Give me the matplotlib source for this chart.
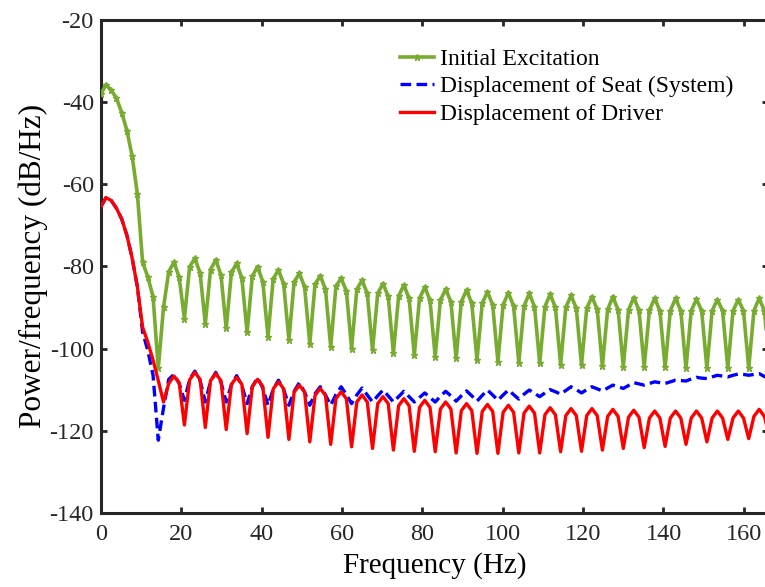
import numpy as np
import matplotlib
matplotlib.use('Agg')
import matplotlib.pyplot as plt

plt.rcParams['font.family'] = ['Liberation Serif', 'DejaVu Serif']
plt.rcParams['axes.unicode_minus'] = False

# PSD values, one value per frequency bin
df = 1.3  # Hz per bin

initial = [
    -38.2, -35.8, -37.2, -39.1, -42.6, -47.0, -53.2, -62.4, -79.0, -82.6,
    -87.4, -104.8, -90.0, -81.3, -79.0, -82.7, -92.7, -80.1, -78.1, -81.6,
    -94.0, -80.8, -78.4, -82.1, -95.1, -81.5, -79.3, -82.9, -96.1, -82.4,
    -80.1, -83.7, -97.1, -83.0, -80.9, -84.3, -97.9, -83.8, -81.7, -85.0,
    -98.8, -84.4, -82.3, -85.6, -99.6, -84.9, -82.9, -86.0, -100.0, -85.6,
    -83.4, -86.6, -100.4, -86.6, -84.2, -87.3, -101.1, -87.2, -84.6, -87.8,
    -101.6, -87.8, -85.1, -88.2, -102.0, -88.2, -85.6, -88.6, -102.4, -88.6,
    -85.8, -89.0, -102.8, -89.0, -86.2, -89.4, -103.2, -89.4, -86.4, -89.7,
    -103.4, -89.7, -86.6, -89.8, -103.6, -89.8, -86.8, -90.0, -103.9, -90.0,
    -87.1, -90.2, -104.0, -90.2, -87.4, -90.5, -104.3, -90.5, -87.4, -90.6,
    -104.4, -90.6, -87.6, -90.7, -104.5, -90.7, -87.8, -90.8, -104.6, -90.8,
    -87.8, -90.8, -104.8, -90.8, -88.0, -90.8, -104.8, -90.8, -88.1, -90.8,
    -104.8, -90.8, -88.1, -90.8, -104.8, -90.8, -87.8, -90.8, -104.8,
]

seat = [
    -65.5, -63.3, -64.0, -65.9, -68.5, -72.5, -78.0, -85.0, -96.0, -100.5,
    -106.5, -122.3, -114.5, -107.5, -106.3, -108.5, -112.6, -107.5, -105.5, -107.8,
    -113.0, -108.0, -105.8, -108.2, -113.0, -108.8, -106.6, -109.0, -113.4, -109.3,
    -107.1, -109.6, -113.8, -109.9, -107.7, -110.0, -113.8, -110.4, -108.3, -110.6,
    -113.8, -111.0, -109.3, -111.3, -113.8, -111.2, -109.3, -111.2, -113.4, -111.3,
    -109.6, -111.3, -113.0, -111.5, -110.1, -111.5, -113.0, -111.7, -110.4, -111.7,
    -113.0, -111.9, -110.8, -111.9, -113.0, -111.6, -110.4, -111.5, -112.8, -111.5,
    -110.3, -111.5, -112.8, -111.4, -110.1, -111.3, -112.6, -111.3, -110.1, -111.2,
    -112.3, -111.1, -110.1, -110.9, -111.7, -110.8, -110.0, -110.5, -111.1, -110.2,
    -109.3, -110.0, -110.8, -110.0, -109.3, -109.8, -110.3, -109.6, -108.9, -109.3,
    -109.7, -109.0, -108.3, -108.6, -108.9, -108.5, -108.1, -108.3, -108.5, -108.1,
    -107.7, -107.8, -107.9, -107.4, -107.0, -107.2, -107.3, -106.9, -106.5, -106.7,
    -106.9, -106.5, -106.2, -106.3, -106.5, -106.3, -106.1, -106.8, -107.3,
]

driver = [
    -65.5, -63.3, -64.0, -65.9, -68.5, -72.5, -78.0, -85.0, -94.8, -98.5,
    -102.8, -107.8, -113.0, -108.5, -106.7, -108.3, -118.6, -107.6, -105.8, -107.5,
    -119.2, -107.8, -106.1, -107.8, -119.7, -108.7, -107.0, -108.7, -120.7, -109.2,
    -107.5, -109.2, -121.6, -109.8, -108.1, -109.8, -122.1, -110.6, -108.9, -110.6,
    -122.7, -111.4, -109.7, -111.4, -123.3, -112.2, -110.5, -112.2, -123.9, -113.0,
    -111.3, -113.0, -124.3, -113.4, -111.7, -113.4, -124.7, -113.9, -112.2, -113.9,
    -125.0, -114.3, -112.6, -114.3, -125.1, -114.7, -113.0, -114.7, -125.4, -115.1,
    -113.4, -115.1, -125.5, -115.3, -113.6, -115.3, -125.5, -115.5, -113.8, -115.5,
    -125.4, -115.7, -114.0, -115.7, -125.4, -116.1, -114.4, -116.1, -125.1, -116.3,
    -114.6, -116.3, -125.0, -116.3, -114.6, -116.3, -124.7, -116.5, -114.8, -116.5,
    -124.3, -116.7, -115.0, -116.7, -124.1, -116.9, -115.2, -116.9, -123.8, -116.9,
    -115.2, -116.9, -123.3, -116.9, -115.2, -116.9, -122.7, -116.9, -115.2, -116.9,
    -122.1, -116.9, -115.2, -116.9, -121.9, -116.5, -114.8, -116.5, -121.5,
]

labels = ['Initial Excitation', 'Displacement of Seat (System)', 'Displacement of Driver']

freq = df * np.arange(len(initial))

fig = plt.figure(figsize=(7.65, 5.87), dpi=100)
ax = fig.add_axes([100.8 / 765, 74 / 587, 667.2 / 765, 493.4 / 587])

ax.plot(freq, initial, '-', color='#77AC30', lw=2.6, marker='*', ms=5,
        label=labels[0], zorder=3)
ax.plot(freq, seat, '--', color='#0000FF', lw=2.4, dashes=(3.2, 1.6),
        label=labels[1], zorder=4)
ax.plot(freq, driver, '-', color='#FF0000', lw=2.4, label=labels[2], zorder=5)

ax.set_xlim(0, 166)
ax.set_ylim(-140, -20)
ax.set_xticks(np.arange(0, 161, 20))
ax.set_yticks(np.arange(-140, -19, 20))

for s in ax.spines.values():
    s.set_linewidth(2.2)
    s.set_color('#262626')
ax.tick_params(direction='in', length=4, width=2, top=True, right=True,
               labelsize=17.5, colors='#262626')
ax.tick_params(axis='x', pad=8)
ax.tick_params(axis='y', pad=5)

ax.set_xlabel('Frequency (Hz)', fontsize=21, labelpad=5)
ax.set_ylabel('Power/frequency (dB/Hz)', fontsize=22.5, labelpad=1)

ax.legend(loc='upper left', bbox_to_anchor=(0.423, 0.975), frameon=False,
          fontsize=17, handlelength=1.45, handletextpad=0.25,
          labelspacing=0.25, borderpad=0.2)

fig.savefig('out.png', dpi=100)
